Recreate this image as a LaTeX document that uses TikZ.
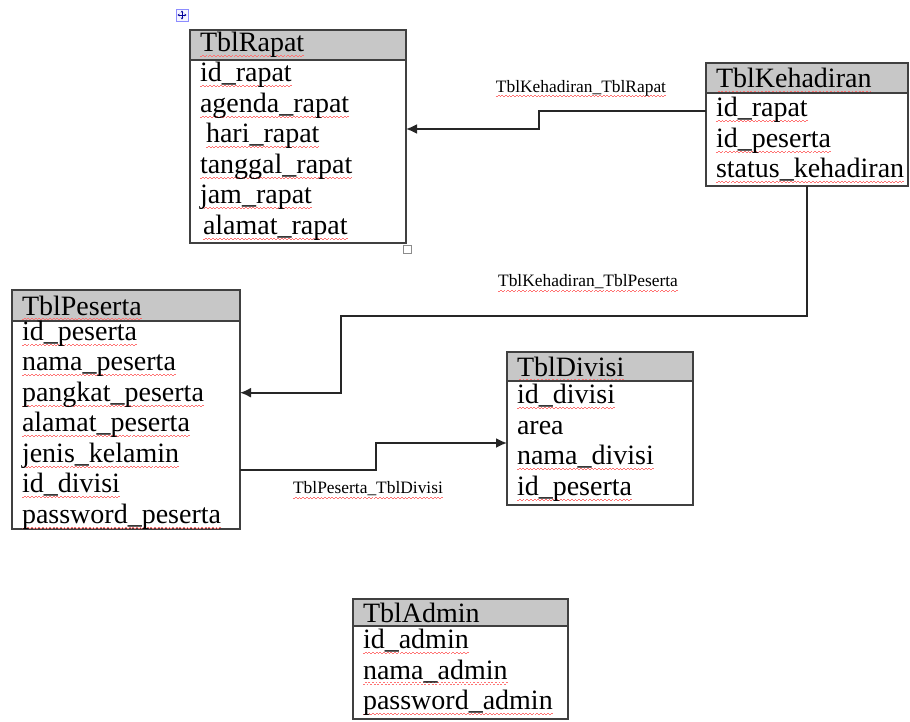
\documentclass[tikz,border=0pt]{standalone}
\usepackage{fontspec}
\setmainfont{Liberation Serif}
\usepackage{xcolor}
\usepackage{tikz}
\usetikzlibrary{positioning,arrows.meta}
\tikzset{
  thead/.style ={rectangle, draw=black!75, line width=1pt, fill=black!22, outer sep=0pt,
                 anchor=north west, align=left, inner xsep=5pt, inner ysep=0pt,
                 minimum height=15pt, font=\fontsize{14}{15.25}\selectfont},
  tbody/.style ={thead, fill=white},
  rel/.style   ={-{Latex[length=5.5pt,width=5pt]}, line width=0.9pt, draw=black!85},
  rlabel/.style={font=\fontsize{8.7}{9}\selectfont, inner sep=1pt},
}
% red spelling squiggle under a word
\newcommand{\spl}[1]{\leavevmode\setbox0=\hbox{#1}\rlap{\color{red!55}\raisebox{-2.6pt}[0pt][0pt]{%
  \hbox to \wd0{\xleaders\hbox{\rule{0.9pt}{0.45pt}\rule[0.55pt]{0.9pt}{0.45pt}}\hfill}}}\box0}

\begin{document}
\begin{tikzpicture}[x=0.5pt, y=-0.5pt]
  \useasboundingbox (0,0) rectangle (910,722);

  % tables
  \node[thead, text width=98pt] (rapat-h) at (190,30) {\spl{TblRapat}};
  \node[tbody, text width=98pt, minimum height=91.5pt, below=0pt of rapat-h] (rapat)
    {\spl{id\_rapat}\\\spl{agenda\_rapat}\\\hspace*{3pt}\spl{hari\_rapat}\\
     \spl{tanggal\_rapat}\\\spl{jam\_rapat}\\\hspace*{1.5pt}\spl{alamat\_rapat}};

  \node[thead, text width=91pt] (kehadiran-h) at (706,63) {\spl{TblKehadiran}};
  \node[tbody, text width=91pt, minimum height=46.5pt, below=0pt of kehadiran-h] (kehadiran)
    {\spl{id\_rapat}\\\spl{id\_peserta}\\\spl{status\_kehadiran}};

  \node[thead, text width=104pt, minimum height=15.5pt] (peserta-h) at (12,290) {\spl{TblPeserta}};
  \node[tbody, text width=104pt, minimum height=103.5pt, below=0pt of peserta-h] (peserta)
    {\spl{id\_peserta}\\\spl{nama\_peserta}\\\spl{pangkat\_peserta}\\\spl{alamat\_peserta}\\
     \spl{jenis\_kelamin}\\\spl{id\_divisi}\\\spl{password\_peserta}};

  \node[thead, text width=83pt, minimum height=14.5pt] (divisi-h) at (507,352) {\spl{TblDivisi}};
  \node[tbody, text width=83pt, minimum height=62pt, below=0pt of divisi-h] (divisi)
    {\spl{id\_divisi}\\area\\\spl{nama\_divisi}\\\spl{id\_peserta}};

  \node[thead, text width=97.5pt, minimum height=13.5pt] (admin-h) at (353,599) {\spl{TblAdmin}};
  \node[tbody, text width=97.5pt, minimum height=46.5pt, below=0pt of admin-h] (admin)
    {\spl{id\_admin}\\\spl{nama\_admin}\\\spl{password\_admin}};

  % table handles
  \node[draw=blue!45, fill=blue!4, minimum size=6pt, inner sep=0pt] (mover) at (182,15) {};
  \draw[blue!60!black, line width=0.4pt, {Stealth[length=1pt,width=1.3pt]}-{Stealth[length=1pt,width=1.3pt]}]
    ([xshift=-2.2pt]mover.center) -- ([xshift=2.2pt]mover.center);
  \draw[blue!60!black, line width=0.4pt, {Stealth[length=1pt,width=1.3pt]}-{Stealth[length=1pt,width=1.3pt]}]
    ([yshift=-2.2pt]mover.center) -- ([yshift=2.2pt]mover.center);
  \node[draw=black!45, fill=white, minimum size=4pt, inner sep=0pt] (sizer) at (407,249) {};

  % relations
  \draw[rel] ([yshift=14.25pt]kehadiran.west) -- ++(-167,0) |- ([yshift=11.25pt]rapat.east);
  \draw[rel] (kehadiran.south) |- ++(-466,130) |- ([yshift=16.25pt]peserta.east);
  \draw[rel] ([yshift=-22.25pt]peserta.east) -- ++(136,0) |- (divisi.west);

  \node[rlabel] (kr-lbl) at (581,88)  {\spl{TblKehadiran\_TblRapat}};
  \node[rlabel] (kp-lbl) at (588,282) {\spl{TblKehadiran\_TblPeserta}};
  \node[rlabel] (pd-lbl) at (368,489) {\spl{TblPeserta\_TblDivisi}};
\end{tikzpicture}
\end{document}
